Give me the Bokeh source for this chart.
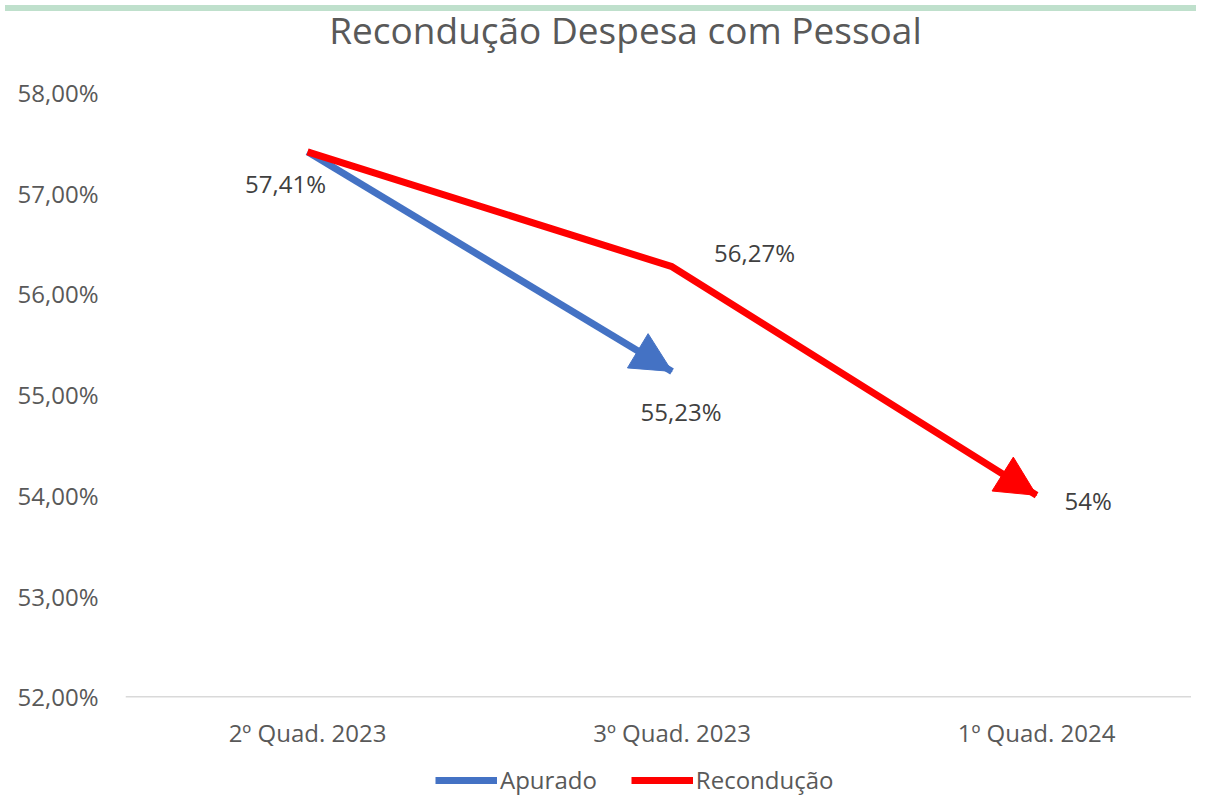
from bokeh.plotting import figure
from bokeh.models import (FixedTicker, ColumnDataSource, Arrow, NormalHead, Legend,
                          LegendItem, Div, Span)
from bokeh.layouts import column
from bokeh.core.properties import value
from bokeh.embed import file_html
from bokeh.resources import INLINE

# ---- data ----
categories = ["2º Quad. 2023", "3º Quad. 2023", "1º Quad. 2024"]
apurado = [57.41, 55.23]
reconducao = [57.41, 56.27, 54.00]
apurado_labels = ["", "55,23%"]
reconducao_labels = ["57,41%", "56,27%", "54%"]
y_ticks = [52, 53, 54, 55, 56, 57, 58]
y_tick_labels = ["52,00%", "53,00%", "54,00%", "55,00%", "56,00%", "57,00%", "58,00%"]
title_text = "Recondução Despesa com Pessoal"

# ---- styles / layout ----
BLUE = "#4472C4"
RED = "#FF0000"
TXT = "#595959"
LBL = "#404040"
FONT = "Open Sans"
W = 1191
H = 736
PX_PER_UNIT = 101.0
PAD_TOP_PX = 32      # frame top to 58% line
PAD_BOT_PX = 100     # 52% baseline to frame bottom

strip = Div(width=W, height=6, styles={"background-color": "#bfe0cc"})
title = Div(width=W, height=34,
            text=('<div style="width:%dpx;box-sizing:border-box;padding-left:50px;'
                  'text-align:center;font-family:\'Open Sans\';font-size:37px;'
                  'line-height:36px;margin-top:-9px;color:%s;white-space:nowrap;">%s</div>'
                  % (W, TXT, title_text)))

y0 = y_ticks[0] - PAD_BOT_PX / PX_PER_UNIT
y1 = y_ticks[-1] + PAD_TOP_PX / PX_PER_UNIT

p = figure(width=W, height=H, output_backend="svg", toolbar_location=None,
           x_range=(-0.4993, 2.425), y_range=(y0, y1),
           min_border_left=125, min_border_right=0, min_border_top=0,
           min_border_bottom=0, title=None)
p.outline_line_color = None
p.background_fill_color = "white"
p.border_fill_color = "white"
p.xgrid.visible = False
p.ygrid.visible = False
p.xaxis.visible = False

ya = p.yaxis[0]
ya.ticker = FixedTicker(ticks=y_ticks)
ya.major_label_overrides = {v: l for v, l in zip(y_ticks, y_tick_labels)}
ya.axis_line_color = None
ya.major_tick_line_color = None
ya.minor_tick_line_color = None
ya.major_label_text_font = FONT
ya.major_label_text_font_size = "24px"
ya.major_label_text_color = TXT
ya.major_label_standoff = 21

# baseline (category axis line) at the lowest tick
p.add_layout(Span(location=y_ticks[0], dimension="width", line_color="#d9d9d9",
                  line_width=1.5))

# category labels under the baseline
cat_src = ColumnDataSource(dict(x=list(range(len(categories))),
                                y=[y_ticks[0]] * len(categories), t=categories))
p.text(x="x", y="y", text="t", source=cat_src, y_offset=36, text_align="center",
       text_baseline="middle", text_font=value(FONT), text_font_size="24px",
       text_color=TXT)

xa_idx = list(range(len(apurado)))
xr_idx = list(range(len(reconducao)))

r_blue = p.line(xa_idx, apurado, line_color=BLUE, line_width=7, line_join="round")
r_red = p.line(xr_idx, reconducao, line_color=RED, line_width=7, line_join="round")

for xs, ys, col in [(xa_idx, apurado, BLUE), (xr_idx, reconducao, RED)]:
    p.add_layout(Arrow(end=NormalHead(size=40, fill_color=col, line_color=col, line_width=1),
                       x_start=xs[-2], y_start=ys[-2], x_end=xs[-1], y_end=ys[-1],
                       line_color=col, line_width=0, line_alpha=0))

# data labels with pixel offsets (style)
red_dx = [-22, 42, 28]
red_dy = [32, -14, 5]
red_align = ["center", "left", "left"]
blue_dx = [0, 9]
blue_dy = [0, 40]
blue_align = ["center", "center"]

src_r = ColumnDataSource(dict(x=xr_idx, y=reconducao, t=reconducao_labels,
                              dx=red_dx, dy=red_dy, a=red_align))
src_b = ColumnDataSource(dict(x=xa_idx, y=apurado, t=apurado_labels,
                              dx=blue_dx, dy=blue_dy, a=blue_align))
for src in (src_r, src_b):
    p.text(x="x", y="y", text="t", x_offset="dx", y_offset="dy", source=src,
           text_align="a", text_baseline="middle", text_font=value(FONT),
           text_font_size="24px", text_color=LBL)

legend = Legend(items=[LegendItem(label="Apurado", renderers=[r_blue]),
                       LegendItem(label="Recondução", renderers=[r_red])],
                orientation="horizontal", location=(310, 0),
                label_text_font=FONT, label_text_font_size="24px",
                label_text_color=TXT, glyph_width=62, glyph_height=20,
                label_standoff=3, spacing=34, padding=0, margin=0,
                border_line_color=None, background_fill_alpha=0)
p.add_layout(legend, "center")

layout = column(strip, title, p, spacing=0)
open("out.html", "w").write(file_html(layout, INLINE))
